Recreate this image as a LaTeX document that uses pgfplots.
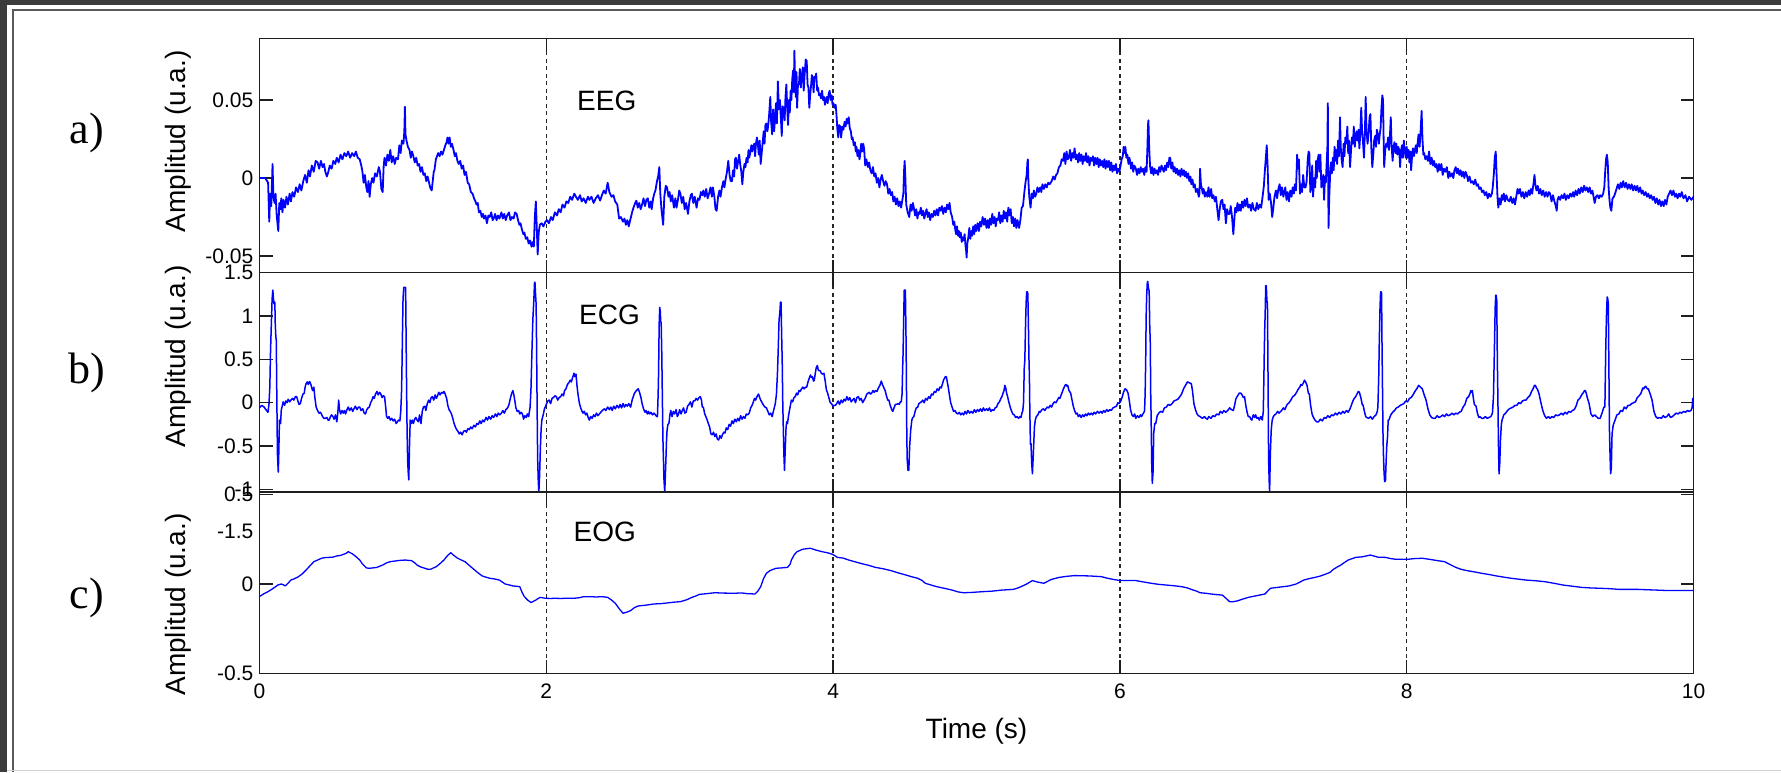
\documentclass[border=0pt]{standalone}
\usepackage{pgfplots}
\pgfplotsset{compat=1.18}
\usepackage{pgfplotstable}
\usepackage{fontspec}
\setmainfont{Liberation Sans}
\newfontfamily\serifpanel{Liberation Serif}
\definecolor{viewer}{RGB}{60,60,60}
\definecolor{axcol}{RGB}{30,30,30}
\definecolor{sigblue}{RGB}{0,0,255}

\pgfplotsset{
  sig/.style={
    scale only axis, width=1434pt,
    xmin=0, xmax=10,
    xtick={0,2,4,6,8,10},
    scaled y ticks=false, scaled x ticks=false,
    tick align=inside,
    major tick length=13pt,
    axis line style={line width=1.4pt, axcol},
    every tick/.append style={line width=1.3pt, axcol},
    xmajorgrids=true,
    major grid style={dash pattern=on 4pt off 3.5pt, line width=1.3pt, black!85},
    tick label style={font=\fontsize{21}{25}\selectfont, text=black},
    /pgf/number format/assume math mode=true,
    yticklabel style={inner sep=0pt, xshift=-6pt},
    xticklabel style={inner sep=0pt, yshift=-10.5pt},
    label style={font=\fontsize{28}{34}\selectfont},
    every axis plot/.append style={line join=round, sigblue},
  },
}

\begin{document}
\pgfplotstableread[row sep=\\]{
t v\\
0 0\\ 0.04 0\\ 0.06 -0.003\\ 0.068 -0.028\\ 0.074 -0.010\\ 0.082 -0.018\\ 0.091 0.009\\ 0.097 -0.012\\ 0.105 -0.016\\ 0.112 -0.010\\
0.120 -0.024\\ 0.131 -0.034\\ 0.138 -0.016\\ 0.146 -0.020\\ 0.152 -0.013\\ 0.160 -0.022\\ 0.168 -0.014\\ 0.178 -0.019\\ 0.188 -0.012\\ 0.198 -0.017\\
0.210 -0.010\\ 0.219 -0.015\\ 0.230 -0.009\\ 0.242 -0.012\\ 0.255 -0.006\\ 0.268 -0.009\\ 0.280 -0.004\\ 0.292 -0.008\\ 0.305 -0.002\\ 0.318 0.002\\
0.330 -0.003\\ 0.342 0.005\\ 0.352 0.001\\ 0.365 0.008\\ 0.378 0.004\\ 0.392 0.011\\ 0.405 0.010\\ 0.416 0.006\\ 0.428 0.011\\ 0.440 0.007\\
0.450 0.009\\ 0.459 0.004\\ 0.470 0.001\\ 0.480 0.004\\ 0.490 0.008\\ 0.503 0.006\\ 0.515 0.011\\ 0.528 0.009\\ 0.539 0.013\\ 0.552 0.010\\
0.565 0.015\\ 0.578 0.012\\ 0.592 0.016\\ 0.605 0.014\\ 0.618 0.017\\ 0.632 0.013\\ 0.646 0.016\\ 0.660 0.014\\ 0.672 0.017\\ 0.685 0.013\\
0.699 0.012\\ 0.710 0.008\\ 0.718 0.004\\ 0.726 -0.003\\ 0.735 0.002\\ 0.745 -0.006\\ 0.752 -0.009\\ 0.760 -0.002\\ 0.768 -0.012\\ 0.776 -0.004\\
0.786 0.000\\ 0.795 -0.003\\ 0.806 0.003\\ 0.818 0.001\\ 0.832 0.007\\ 0.840 0.004\\ 0.850 -0.007\\ 0.859 -0.009\\ 0.866 0.008\\ 0.872 0.013\\
0.882 0.008\\ 0.892 0.015\\ 0.902 0.011\\ 0.912 0.018\\ 0.922 0.010\\ 0.932 0.014\\ 0.943 0.009\\ 0.953 0.013\\ 0.966 0.012\\ 0.975 0.021\\
0.984 0.016\\ 0.993 0.024\\ 1.004 0.022\\ 1.010 0.030\\ 1.014 0.0457\\ 1.018 0.028\\ 1.025 0.024\\ 1.035 0.020\\ 1.046 0.018\\ 1.055 0.013\\
1.063 0.017\\ 1.073 0.014\\ 1.083 0.010\\ 1.093 0.013\\ 1.103 0.008\\ 1.113 0.009\\ 1.123 0.004\\ 1.133 0.007\\ 1.143 0.002\\ 1.153 0.003\\
1.163 -0.002\\ 1.172 0.001\\ 1.180 -0.002\\ 1.190 -0.006\\ 1.201 -0.008\\ 1.208 -0.002\\ 1.215 0.004\\ 1.220 0.005\\ 1.230 0.012\\ 1.238 0.014\\
1.246 0.016\\ 1.256 0.014\\ 1.266 0.017\\ 1.276 0.015\\ 1.286 0.018\\ 1.296 0.021\\ 1.305 0.023\\ 1.311 0.026\\ 1.318 0.022\\ 1.326 0.026\\
1.334 0.020\\ 1.342 0.022\\ 1.353 0.018\\ 1.362 0.014\\ 1.370 0.016\\ 1.380 0.011\\ 1.390 0.009\\ 1.400 0.011\\ 1.410 0.006\\ 1.420 0.008\\
1.430 0.002\\ 1.440 0.004\\ 1.452 -0.003\\ 1.462 -0.004\\ 1.474 -0.009\\ 1.486 -0.010\\ 1.496 -0.013\\ 1.506 -0.015\\ 1.513 -0.017\\ 1.522 -0.016\\
1.530 -0.022\\ 1.540 -0.021\\ 1.550 -0.025\\ 1.558 -0.023\\ 1.566 -0.026\\ 1.576 -0.024\\ 1.586 -0.029\\ 1.596 -0.024\\ 1.606 -0.025\\ 1.616 -0.022\\
1.626 -0.027\\ 1.633 -0.026\\ 1.643 -0.023\\ 1.653 -0.027\\ 1.663 -0.024\\ 1.673 -0.026\\ 1.687 -0.022\\ 1.697 -0.026\\ 1.707 -0.023\\ 1.717 -0.027\\
1.727 -0.024\\ 1.740 -0.022\\ 1.750 -0.027\\ 1.760 -0.025\\ 1.772 -0.026\\ 1.782 -0.022\\ 1.793 -0.023\\ 1.803 -0.027\\ 1.812 -0.030\\ 1.820 -0.029\\
1.830 -0.033\\ 1.840 -0.036\\ 1.847 -0.035\\ 1.857 -0.039\\ 1.867 -0.038\\ 1.877 -0.042\\ 1.887 -0.040\\ 1.897 -0.044\\ 1.906 -0.041\\ 1.913 -0.044\\
1.920 -0.025\\ 1.927 -0.015\\ 1.933 -0.030\\ 1.940 -0.049\\ 1.947 -0.035\\ 1.955 -0.030\\ 1.967 -0.029\\ 1.980 -0.031\\ 1.994 -0.028\\ 2.005 -0.027\\
2.018 -0.029\\ 2.033 -0.025\\ 2.045 -0.027\\ 2.060 -0.022\\ 2.075 -0.024\\ 2.087 -0.020\\ 2.100 -0.022\\ 2.113 -0.017\\ 2.127 -0.019\\ 2.140 -0.015\\
2.153 -0.016\\ 2.167 -0.012\\ 2.180 -0.014\\ 2.195 -0.010\\ 2.207 -0.012\\ 2.220 -0.014\\ 2.235 -0.011\\ 2.247 -0.015\\ 2.260 -0.013\\ 2.275 -0.016\\
2.290 -0.012\\ 2.300 -0.014\\ 2.315 -0.012\\ 2.330 -0.016\\ 2.345 -0.013\\ 2.360 -0.011\\ 2.375 -0.0145\\ 2.388 -0.011\\ 2.401 -0.008\\ 2.414 -0.010\\
2.428 -0.003\\ 2.440 -0.009\\ 2.455 -0.012\\ 2.468 -0.011\\ 2.480 -0.015\\ 2.495 -0.017\\ 2.502 -0.022\\ 2.508 -0.026\\ 2.520 -0.025\\ 2.535 -0.028\\
2.545 -0.026\\ 2.555 -0.030\\ 2.565 -0.027\\ 2.575 -0.031\\ 2.585 -0.027\\ 2.593 -0.024\\ 2.601 -0.021\\ 2.612 -0.018\\ 2.620 -0.016\\ 2.628 -0.0145\\
2.638 -0.019\\ 2.648 -0.016\\ 2.658 -0.020\\ 2.668 -0.017\\ 2.678 -0.013\\ 2.688 -0.018\\ 2.698 -0.014\\ 2.708 -0.013\\ 2.718 -0.019\\ 2.728 -0.015\\
2.735 -0.020\\ 2.745 -0.013\\ 2.753 -0.010\\ 2.761 -0.008\\ 2.772 -0.002\\ 2.780 0.001\\ 2.788 0.007\\ 2.795 -0.010\\ 2.803 -0.020\\ 2.815 -0.030\\
2.823 -0.012\\ 2.833 -0.005\\ 2.842 -0.006\\ 2.852 -0.012\\ 2.860 -0.009\\ 2.868 -0.015\\ 2.878 -0.011\\ 2.890 -0.019\\ 2.900 -0.013\\ 2.908 -0.019\\
2.918 -0.014\\ 2.927 -0.008\\ 2.935 -0.010\\ 2.945 -0.016\\ 2.955 -0.012\\ 2.965 -0.020\\ 2.975 -0.016\\ 2.988 -0.023\\ 2.998 -0.015\\ 3.008 -0.011\\
3.015 -0.010\\ 3.025 -0.016\\ 3.035 -0.012\\ 3.048 -0.019\\ 3.058 -0.013\\ 3.068 -0.014\\ 3.078 -0.009\\ 3.088 -0.011\\ 3.095 -0.008\\ 3.105 -0.012\\
3.115 -0.007\\ 3.125 -0.013\\ 3.135 -0.010\\ 3.145 -0.006\\ 3.155 -0.012\\ 3.162 -0.006\\ 3.172 -0.012\\ 3.180 -0.020\\ 3.188 -0.021\\ 3.198 -0.012\\
3.207 -0.008\\ 3.215 -0.012\\ 3.225 -0.006\\ 3.235 -0.002\\ 3.242 -0.006\\ 3.250 -0.001\\ 3.260 0.004\\ 3.269 0.011\\ 3.278 0.002\\ 3.286 -0.002\\
3.295 -0.002\\ 3.302 0.005\\ 3.310 0.001\\ 3.316 0.012\\ 3.322 0.013\\ 3.330 0.006\\ 3.338 0.011\\ 3.345 0.015\\ 3.352 0.009\\ 3.360 0.004\\
3.367 -0.004\\ 3.374 0.004\\ 3.382 0.009\\ 3.389 0.007\\ 3.396 0.013\\ 3.404 0.010\\ 3.410 0.018\\ 3.415 0.013\\ 3.422 0.016\\ 3.430 0.021\\
3.436 0.017\\ 3.442 0.020\\ 3.450 0.022\\ 3.456 0.014\\ 3.462 0.022\\ 3.469 0.026\\ 3.476 0.021\\ 3.482 0.015\\ 3.488 0.024\\ 3.495 0.009\\
3.502 0.016\\ 3.510 0.024\\ 3.516 0.030\\ 3.522 0.022\\ 3.528 0.034\\ 3.535 0.035\\ 3.542 0.030\\ 3.549 0.035\\ 3.555 0.042\\ 3.562 0.052\\
3.568 0.036\\ 3.575 0.028\\ 3.582 0.044\\ 3.589 0.030\\ 3.596 0.040\\ 3.602 0.048\\ 3.608 0.035\\ 3.615 0.062\\ 3.622 0.044\\ 3.629 0.050\\
3.636 0.038\\ 3.642 0.027\\ 3.648 0.046\\ 3.655 0.044\\ 3.662 0.037\\ 3.668 0.052\\ 3.674 0.060\\ 3.680 0.045\\ 3.686 0.034\\ 3.692 0.050\\
3.698 0.042\\ 3.704 0.056\\ 3.709 0.050\\ 3.715 0.063\\ 3.721 0.069\\ 3.726 0.055\\ 3.730 0.0816\\ 3.735 0.062\\ 3.740 0.052\\ 3.745 0.068\\
3.749 0.045\\ 3.755 0.060\\ 3.762 0.060\\ 3.768 0.070\\ 3.775 0.058\\ 3.782 0.066\\ 3.789 0.071\\ 3.795 0.056\\ 3.802 0.067\\ 3.809 0.076\\
3.816 0.075\\ 3.822 0.060\\ 3.828 0.058\\ 3.834 0.045\\ 3.840 0.053\\ 3.847 0.060\\ 3.852 0.066\\ 3.858 0.064\\ 3.864 0.055\\ 3.870 0.065\\
3.876 0.064\\ 3.882 0.067\\ 3.889 0.056\\ 3.895 0.058\\ 3.902 0.053\\ 3.909 0.054\\ 3.916 0.051\\ 3.923 0.056\\ 3.930 0.050\\ 3.937 0.052\\
3.943 0.047\\ 3.949 0.050\\ 3.956 0.052\\ 3.962 0.048\\ 3.969 0.054\\ 3.976 0.056\\ 3.983 0.050\\ 3.990 0.053\\ 3.996 0.047\\ 4.002 0.048\\
4.010 0.045\\ 4.018 0.047\\ 4.024 0.040\\ 4.029 0.032\\ 4.036 0.026\\ 4.042 0.034\\ 4.050 0.033\\ 4.056 0.026\\ 4.064 0.033\\ 4.072 0.031\\
4.080 0.036\\ 4.087 0.033\\ 4.095 0.038\\ 4.102 0.035\\ 4.109 0.039\\ 4.116 0.032\\ 4.124 0.030\\ 4.130 0.025\\ 4.136 0.026\\ 4.144 0.021\\
4.152 0.023\\ 4.158 0.017\\ 4.163 0.020\\ 4.170 0.014\\ 4.177 0.018\\ 4.184 0.012\\ 4.189 0.015\\ 4.196 0.022\\ 4.203 0.017\\ 4.210 0.022\\
4.216 0.019\\ 4.224 0.008\\ 4.232 0.012\\ 4.243 0.007\\ 4.251 0.010\\ 4.260 0.005\\ 4.269 0.003\\ 4.278 0.007\\ 4.287 0.001\\ 4.296 0.003\\
4.305 -0.003\\ 4.314 0.000\\ 4.323 -0.006\\ 4.331 -0.001\\ 4.340 0.002\\ 4.349 -0.002\\ 4.358 -0.005\\ 4.367 -0.002\\ 4.376 -0.004\\ 4.385 -0.010\\
4.394 -0.007\\ 4.403 -0.011\\ 4.412 -0.009\\ 4.420 -0.015\\ 4.429 -0.012\\ 4.438 -0.017\\ 4.447 -0.013\\ 4.456 -0.018\\ 4.465 -0.015\\ 4.474 -0.019\\
4.483 -0.014\\ 4.490 -0.010\\ 4.495 0.005\\ 4.499 0.011\\ 4.504 0.000\\ 4.510 -0.017\\ 4.520 -0.022\\ 4.531 -0.025\\ 4.540 -0.017\\ 4.548 -0.021\\
4.556 -0.016\\ 4.563 -0.019\\ 4.572 -0.024\\ 4.580 -0.020\\ 4.588 -0.026\\ 4.595 -0.022\\ 4.603 -0.023\\ 4.612 -0.019\\ 4.620 -0.024\\ 4.628 -0.021\\
4.636 -0.026\\ 4.643 -0.023\\ 4.652 -0.020\\ 4.660 -0.025\\ 4.668 -0.022\\ 4.677 -0.027\\ 4.686 -0.023\\ 4.696 -0.025\\ 4.705 -0.021\\ 4.714 -0.024\\
4.723 -0.020\\ 4.732 -0.024\\ 4.741 -0.019\\ 4.750 -0.021\\ 4.759 -0.018\\ 4.768 -0.023\\ 4.777 -0.019\\ 4.786 -0.022\\ 4.795 -0.017\\ 4.803 -0.020\\
4.812 -0.016\\ 4.820 -0.022\\ 4.830 -0.025\\ 4.838 -0.030\\ 4.845 -0.028\\ 4.852 -0.033\\ 4.857 -0.036\\ 4.864 -0.031\\ 4.871 -0.037\\ 4.877 -0.034\\
4.883 -0.038\\ 4.890 -0.035\\ 4.897 -0.041\\ 4.904 -0.038\\ 4.910 -0.040\\ 4.917 -0.036\\ 4.923 -0.043\\ 4.928 -0.047\\ 4.931 -0.051\\ 4.936 -0.042\\
4.943 -0.038\\ 4.950 -0.032\\ 4.957 -0.039\\ 4.963 -0.034\\ 4.970 -0.037\\ 4.977 -0.031\\ 4.984 -0.036\\ 4.991 -0.030\\ 4.998 -0.034\\ 5.008 -0.029\\
5.017 -0.034\\ 5.025 -0.028\\ 5.033 -0.031\\ 5.043 -0.025\\ 5.052 -0.030\\ 5.060 -0.026\\ 5.070 -0.032\\ 5.078 -0.027\\ 5.086 -0.032\\ 5.094 -0.026\\
5.102 -0.030\\ 5.110 -0.023\\ 5.118 -0.029\\ 5.126 -0.025\\ 5.134 -0.031\\ 5.142 -0.026\\ 5.150 -0.027\\ 5.158 -0.022\\ 5.166 -0.029\\ 5.174 -0.024\\
5.182 -0.028\\ 5.190 -0.021\\ 5.198 -0.026\\ 5.206 -0.022\\ 5.214 -0.028\\ 5.222 -0.019\\ 5.230 -0.024\\ 5.238 -0.020\\ 5.246 -0.029\\ 5.254 -0.025\\
5.262 -0.031\\ 5.270 -0.026\\ 5.278 -0.032\\ 5.286 -0.027\\ 5.297 -0.032\\ 5.306 -0.027\\ 5.315 -0.019\\ 5.324 -0.018\\ 5.335 -0.008\\ 5.343 -0.002\\
5.350 0.002\\ 5.355 0.010\\ 5.358 0.012\\ 5.362 -0.002\\ 5.368 -0.012\\ 5.377 -0.019\\ 5.385 -0.010\\ 5.393 -0.013\\ 5.400 -0.008\\ 5.409 -0.012\\
5.417 -0.010\\ 5.425 -0.006\\ 5.434 -0.009\\ 5.444 -0.006\\ 5.452 -0.009\\ 5.460 -0.004\\ 5.470 -0.007\\ 5.480 -0.004\\ 5.490 -0.006\\ 5.500 -0.003\\
5.510 -0.004\\ 5.524 -0.002\\ 5.535 0.001\\ 5.545 -0.001\\ 5.555 0.002\\ 5.564 0.003\\ 5.575 0.007\\ 5.585 0.008\\ 5.594 0.012\\ 5.604 0.011\\
5.612 0.016\\ 5.620 0.009\\ 5.628 0.017\\ 5.636 0.012\\ 5.644 0.013\\ 5.652 0.018\\ 5.660 0.011\\ 5.668 0.016\\ 5.676 0.013\\ 5.684 0.019\\
5.692 0.012\\ 5.700 0.015\\ 5.708 0.010\\ 5.716 0.016\\ 5.724 0.011\\ 5.732 0.015\\ 5.740 0.009\\ 5.748 0.014\\ 5.756 0.011\\ 5.764 0.016\\
5.772 0.010\\ 5.780 0.014\\ 5.788 0.008\\ 5.796 0.013\\ 5.804 0.011\\ 5.812 0.014\\ 5.820 0.008\\ 5.828 0.013\\ 5.836 0.009\\ 5.844 0.013\\
5.852 0.007\\ 5.860 0.012\\ 5.868 0.008\\ 5.876 0.011\\ 5.884 0.007\\ 5.892 0.012\\ 5.900 0.006\\ 5.908 0.011\\ 5.916 0.007\\ 5.924 0.011\\
5.932 0.005\\ 5.940 0.010\\ 5.948 0.004\\ 5.956 0.008\\ 5.964 0.005\\ 5.972 0.009\\ 5.980 0.003\\ 5.988 0.006\\ 5.996 0.004\\ 6.005 0.008\\
6.012 0.012\\ 6.020 0.014\\ 6.026 0.020\\ 6.031 0.016\\ 6.038 0.020\\ 6.045 0.013\\ 6.052 0.015\\ 6.060 0.009\\ 6.066 0.013\\ 6.071 0.011\\
6.078 0.006\\ 6.085 0.010\\ 6.093 0.004\\ 6.101 0.008\\ 6.111 0.006\\ 6.120 0.002\\ 6.128 0.006\\ 6.137 0.003\\ 6.145 0.007\\ 6.153 0.004\\
6.162 0.006\\ 6.170 0.002\\ 6.178 0.007\\ 6.186 0.004\\ 6.192 0.020\\ 6.196 0.034\\ 6.199 0.037\\ 6.204 0.020\\ 6.210 0.008\\ 6.218 0.003\\
6.226 0.007\\ 6.234 0.002\\ 6.242 0.006\\ 6.250 0.003\\ 6.258 0.005\\ 6.266 0.002\\ 6.274 0.007\\ 6.282 0.004\\ 6.290 0.008\\ 6.298 0.006\\
6.306 0.004\\ 6.314 0.008\\ 6.322 0.005\\ 6.330 0.010\\ 6.338 0.007\\ 6.345 0.013\\ 6.351 0.013\\ 6.358 0.006\\ 6.366 0.010\\ 6.374 0.004\\
6.382 0.007\\ 6.390 0.003\\ 6.398 0.006\\ 6.406 0.002\\ 6.414 0.005\\ 6.422 0.001\\ 6.430 0.006\\ 6.438 0.002\\ 6.446 0.005\\ 6.452 0.001\\
6.460 0.004\\ 6.468 0.000\\ 6.476 0.003\\ 6.484 -0.002\\ 6.492 0.001\\ 6.498 -0.004\\ 6.506 -0.001\\ 6.514 -0.006\\ 6.522 -0.004\\ 6.530 -0.009\\
6.540 -0.007\\ 6.550 -0.012\\ 6.555 -0.010\\ 6.559 0.006\\ 6.565 -0.004\\ 6.570 -0.006\\ 6.578 -0.010\\ 6.584 -0.007\\ 6.592 -0.012\\ 6.600 -0.009\\
6.610 -0.012\\ 6.618 -0.006\\ 6.626 -0.012\\ 6.636 -0.007\\ 6.644 -0.013\\ 6.652 -0.011\\ 6.662 -0.015\\ 6.670 -0.012\\ 6.678 -0.019\\ 6.688 -0.027\\
6.696 -0.020\\ 6.704 -0.015\\ 6.714 -0.014\\ 6.722 -0.020\\ 6.730 -0.017\\ 6.739 -0.029\\ 6.748 -0.020\\ 6.756 -0.023\\ 6.765 -0.023\\ 6.773 -0.018\\
6.782 -0.025\\ 6.791 -0.036\\ 6.797 -0.028\\ 6.804 -0.019\\ 6.812 -0.022\\ 6.820 -0.016\\ 6.828 -0.021\\ 6.836 -0.017\\ 6.843 -0.021\\ 6.852 -0.015\\
6.860 -0.019\\ 6.869 -0.014\\ 6.877 -0.018\\ 6.886 -0.013\\ 6.895 -0.019\\ 6.907 -0.017\\ 6.915 -0.021\\ 6.924 -0.016\\ 6.934 -0.020\\ 6.946 -0.021\\
6.955 -0.016\\ 6.965 -0.020\\ 6.975 -0.017\\ 6.985 -0.019\\ 6.995 -0.012\\ 7.004 -0.005\\ 7.011 0.005\\ 7.017 0.012\\ 7.024 0.021\\ 7.030 0.008\\
7.037 -0.014\\ 7.045 -0.010\\ 7.054 -0.016\\ 7.062 -0.025\\ 7.070 -0.019\\ 7.078 -0.012\\ 7.088 -0.008\\ 7.096 -0.013\\ 7.105 -0.007\\ 7.114 -0.004\\
7.122 -0.011\\ 7.130 -0.006\\ 7.140 -0.012\\ 7.153 -0.006\\ 7.162 -0.014\\ 7.170 -0.009\\ 7.179 -0.015\\ 7.188 -0.008\\ 7.197 -0.012\\ 7.205 -0.006\\
7.213 -0.010\\ 7.220 -0.004\\ 7.228 -0.008\\ 7.236 0.015\\ 7.240 0.006\\ 7.248 0.012\\ 7.256 -0.010\\ 7.263 -0.004\\ 7.270 -0.009\\ 7.278 0.002\\
7.286 -0.006\\ 7.295 -0.006\\ 7.302 -0.002\\ 7.310 0.012\\ 7.316 0.017\\ 7.321 0.016\\ 7.328 -0.009\\ 7.335 -0.004\\ 7.341 0.008\\ 7.347 -0.012\\
7.355 0.000\\ 7.362 -0.006\\ 7.368 0.011\\ 7.373 0.000\\ 7.380 0.012\\ 7.386 0.015\\ 7.392 0.004\\ 7.398 0.015\\ 7.405 -0.006\\ 7.412 -0.004\\
7.418 0.002\\ 7.424 -0.014\\ 7.430 0.001\\ 7.436 -0.003\\ 7.442 0.010\\ 7.447 0.020\\ 7.450 0.048\\ 7.452 0.005\\ 7.455 -0.032\\ 7.460 -0.012\\
7.466 0.002\\ 7.472 0.010\\ 7.478 0.003\\ 7.485 0.013\\ 7.491 0.005\\ 7.497 0.020\\ 7.502 0.011\\ 7.508 0.018\\ 7.515 0.009\\ 7.521 0.024\\
7.528 0.014\\ 7.535 0.039\\ 7.540 0.020\\ 7.546 0.012\\ 7.553 0.007\\ 7.560 0.022\\ 7.566 0.014\\ 7.572 0.026\\ 7.579 0.022\\ 7.586 0.033\\
7.592 0.016\\ 7.598 0.024\\ 7.605 0.007\\ 7.612 0.018\\ 7.618 0.026\\ 7.625 0.022\\ 7.631 0.033\\ 7.638 0.020\\ 7.644 0.026\\ 7.650 0.030\\
7.657 0.024\\ 7.664 0.031\\ 7.670 0.019\\ 7.676 0.028\\ 7.683 0.045\\ 7.689 0.030\\ 7.696 0.022\\ 7.702 0.013\\ 7.708 0.028\\ 7.714 0.052\\
7.720 0.030\\ 7.727 0.022\\ 7.734 0.028\\ 7.741 0.039\\ 7.747 0.041\\ 7.753 0.020\\ 7.760 0.007\\ 7.767 0.015\\ 7.773 0.024\\ 7.780 0.027\\
7.786 0.020\\ 7.792 0.031\\ 7.799 0.028\\ 7.806 0.022\\ 7.812 0.028\\ 7.818 0.032\\ 7.824 0.045\\ 7.830 0.053\\ 7.835 0.050\\ 7.840 0.020\\
7.843 0.007\\ 7.850 0.018\\ 7.857 0.022\\ 7.864 0.020\\ 7.870 0.026\\ 7.876 0.018\\ 7.883 0.027\\ 7.889 0.039\\ 7.895 0.020\\ 7.902 0.011\\
7.908 0.020\\ 7.915 0.023\\ 7.922 0.016\\ 7.928 0.022\\ 7.935 0.015\\ 7.941 0.020\\ 7.948 0.018\\ 7.954 0.007\\ 7.960 0.017\\ 7.967 0.021\\
7.973 0.013\\ 7.980 0.024\\ 7.987 0.017\\ 7.993 0.013\\ 8.000 0.020\\ 8.006 0.013\\ 8.013 0.018\\ 8.019 0.010\\ 8.026 0.017\\ 8.031 0.005\\
8.038 0.015\\ 8.044 0.019\\ 8.051 0.014\\ 8.057 0.018\\ 8.064 0.021\\ 8.070 0.016\\ 8.077 0.023\\ 8.083 0.028\\ 8.090 0.020\\ 8.097 0.030\\
8.104 0.043\\ 8.110 0.025\\ 8.116 0.015\\ 8.122 0.016\\ 8.130 0.012\\ 8.138 0.014\\ 8.148 0.011\\ 8.156 0.017\\ 8.165 0.009\\ 8.174 0.013\\
8.182 0.008\\ 8.190 0.011\\ 8.199 0.007\\ 8.207 0.009\\ 8.216 0.004\\ 8.225 0.009\\ 8.233 0.005\\ 8.242 0.009\\ 8.251 0.002\\ 8.260 0.006\\
8.270 0.004\\ 8.280 0.007\\ 8.290 0.000\\ 8.298 0.004\\ 8.306 0.001\\ 8.316 0.003\\ 8.325 0.000\\ 8.333 0.005\\ 8.342 0.007\\ 8.350 0.003\\
8.358 0.006\\ 8.367 0.002\\ 8.376 0.005\\ 8.384 0.001\\ 8.393 0.004\\ 8.402 0.000\\ 8.410 0.004\\ 8.419 0.002\\ 8.428 -0.002\\ 8.438 0.001\\
8.448 -0.003\\ 8.458 -0.002\\ 8.468 -0.004\\ 8.478 -0.001\\ 8.488 -0.005\\ 8.497 -0.004\\ 8.506 -0.007\\ 8.516 -0.006\\ 8.525 -0.009\\ 8.535 -0.008\\
8.545 -0.011\\ 8.555 -0.009\\ 8.565 -0.013\\ 8.574 -0.010\\ 8.585 -0.012\\ 8.594 -0.010\\ 8.600 -0.006\\ 8.608 0.003\\ 8.614 0.013\\ 8.621 0.017\\
8.627 0.002\\ 8.633 -0.012\\ 8.639 -0.019\\ 8.646 -0.013\\ 8.655 -0.017\\ 8.663 -0.011\\ 8.670 -0.014\\ 8.677 -0.010\\ 8.686 -0.015\\ 8.695 -0.011\\
8.705 -0.014\\ 8.716 -0.015\\ 8.726 -0.012\\ 8.736 -0.016\\ 8.746 -0.013\\ 8.755 -0.017\\ 8.764 -0.012\\ 8.773 -0.007\\ 8.781 -0.010\\ 8.790 -0.007\\
8.800 -0.012\\ 8.810 -0.009\\ 8.820 -0.013\\ 8.830 -0.009\\ 8.840 -0.012\\ 8.850 -0.008\\ 8.858 -0.011\\ 8.866 -0.007\\ 8.875 -0.010\\ 8.885 -0.003\\
8.891 0.002\\ 8.897 -0.004\\ 8.905 -0.008\\ 8.914 -0.005\\ 8.923 -0.010\\ 8.932 -0.007\\ 8.942 -0.011\\ 8.952 -0.008\\ 8.962 -0.012\\ 8.972 -0.009\\
8.982 -0.012\\ 8.991 -0.009\\ 9.000 -0.010\\ 9.010 -0.015\\ 9.020 -0.011\\ 9.030 -0.015\\ 9.040 -0.018\\ 9.046 -0.021\\ 9.052 -0.014\\ 9.060 -0.012\\
9.070 -0.014\\ 9.080 -0.011\\ 9.091 -0.013\\ 9.100 -0.010\\ 9.110 -0.014\\ 9.120 -0.011\\ 9.130 -0.013\\ 9.140 -0.010\\ 9.150 -0.012\\ 9.160 -0.009\\
9.168 -0.012\\ 9.178 -0.008\\ 9.188 -0.011\\ 9.198 -0.007\\ 9.207 -0.010\\ 9.217 -0.006\\ 9.227 -0.009\\ 9.237 -0.005\\ 9.246 -0.008\\ 9.256 -0.006\\
9.266 -0.009\\ 9.276 -0.006\\ 9.285 -0.010\\ 9.295 -0.008\\ 9.305 -0.013\\ 9.311 -0.016\\ 9.320 -0.012\\ 9.330 -0.011\\ 9.340 -0.013\\ 9.349 -0.011\\
9.360 -0.012\\ 9.370 -0.010\\ 9.378 -0.006\\ 9.384 0.004\\ 9.390 0.012\\ 9.396 0.015\\ 9.402 0.010\\ 9.408 -0.006\\ 9.414 -0.014\\ 9.420 -0.019\\
9.427 -0.021\\ 9.435 -0.013\\ 9.445 -0.012\\ 9.453 -0.010\\ 9.463 -0.007\\ 9.473 -0.004\\ 9.483 -0.007\\ 9.492 -0.003\\ 9.500 -0.006\\ 9.510 -0.002\\
9.520 -0.006\\ 9.530 -0.003\\ 9.540 -0.007\\ 9.550 -0.004\\ 9.560 -0.007\\ 9.569 -0.004\\ 9.579 -0.008\\ 9.589 -0.005\\ 9.599 -0.008\\ 9.608 -0.005\\
9.618 -0.009\\ 9.628 -0.006\\ 9.638 -0.010\\ 9.646 -0.008\\ 9.656 -0.011\\ 9.666 -0.009\\ 9.676 -0.012\\ 9.685 -0.010\\ 9.695 -0.013\\ 9.705 -0.011\\
9.715 -0.014\\ 9.724 -0.012\\ 9.734 -0.016\\ 9.744 -0.013\\ 9.754 -0.017\\ 9.763 -0.014\\ 9.773 -0.018\\ 9.782 -0.015\\ 9.792 -0.018\\ 9.801 -0.014\\
9.811 -0.017\\ 9.820 -0.012\\ 9.830 -0.010\\ 9.840 -0.008\\ 9.850 -0.011\\ 9.860 -0.008\\ 9.870 -0.012\\ 9.879 -0.010\\ 9.889 -0.013\\ 9.899 -0.010\\
9.908 -0.012\\ 9.918 -0.009\\ 9.930 -0.013\\ 9.944 -0.011\\ 9.955 -0.015\\ 9.969 -0.012\\ 9.985 -0.014\\ 10.000 -0.012\\
}\eegdata

\pgfplotstableread[row sep=\\]{
t v\\
0.000 -0.06\\ 0.015 -0.03\\ 0.032 -0.05\\ 0.045 -0.08\\ 0.059 -0.11\\ 0.066 -0.02\\ 0.072 0.18\\ 0.077 0.60\\ 0.083 0.93\\ 0.088 1.20\\
0.093 1.30\\ 0.097 1.20\\ 0.101 1.14\\ 0.104 1.16\\ 0.107 1.16\\ 0.110 0.90\\ 0.114 0.76\\ 0.117 0.72\\ 0.120 0.20\\ 0.125 -0.59\\
0.131 -0.80\\ 0.135 -0.55\\ 0.139 -0.20\\ 0.143 -0.22\\ 0.147 -0.24\\ 0.152 -0.08\\ 0.157 -0.05\\ 0.165 0.01\\ 0.175 -0.03\\ 0.183 0.02\\
0.192 0.00\\ 0.200 0.04\\ 0.210 0.01\\ 0.219 0.03\\ 0.230 0.05\\ 0.240 0.03\\ 0.250 0.07\\ 0.259 0.07\\ 0.268 0.02\\ 0.276 -0.02\\
0.285 -0.01\\ 0.293 0.05\\ 0.303 0.10\\ 0.312 0.11\\ 0.318 0.18\\ 0.325 0.22\\ 0.333 0.24\\ 0.340 0.21\\ 0.346 0.24\\ 0.352 0.24\\
0.360 0.20\\ 0.370 0.14\\ 0.379 0.18\\ 0.386 0.06\\ 0.395 -0.05\\ 0.405 -0.09\\ 0.415 -0.12\\ 0.425 -0.11\\ 0.432 -0.13\\ 0.440 -0.16\\
0.450 -0.18\\ 0.459 -0.18\\ 0.470 -0.17\\ 0.478 -0.20\\ 0.486 -0.20\\ 0.495 -0.16\\ 0.503 -0.14\\ 0.512 -0.16\\ 0.520 -0.19\\ 0.530 -0.14\\
0.539 -0.22\\ 0.546 -0.12\\ 0.552 0.03\\ 0.558 -0.08\\ 0.566 -0.13\\ 0.575 -0.09\\ 0.584 -0.12\\ 0.592 -0.09\\ 0.600 -0.13\\ 0.610 -0.08\\
0.619 -0.05\\ 0.628 -0.09\\ 0.640 -0.06\\ 0.650 -0.10\\ 0.659 -0.07\\ 0.668 -0.04\\ 0.680 -0.08\\ 0.690 -0.05\\ 0.699 -0.05\\ 0.708 -0.09\\
0.720 -0.07\\ 0.730 -0.12\\ 0.739 -0.13\\ 0.748 -0.08\\ 0.757 -0.06\\ 0.766 -0.05\\ 0.775 0.00\\ 0.784 0.03\\ 0.792 0.07\\ 0.800 0.05\\
0.809 0.10\\ 0.819 0.13\\ 0.828 0.09\\ 0.838 0.12\\ 0.846 0.10\\ 0.855 0.06\\ 0.864 0.08\\ 0.872 0.07\\ 0.880 -0.05\\ 0.886 -0.16\\
0.894 -0.18\\ 0.903 -0.16\\ 0.912 -0.20\\ 0.922 -0.18\\ 0.932 -0.21\\ 0.942 -0.19\\ 0.953 -0.24\\ 0.962 -0.22\\ 0.970 -0.20\\ 0.979 -0.21\\
0.985 -0.10\\ 0.990 0.10\\ 0.993 0.34\\ 0.997 0.80\\ 1.001 1.20\\ 1.006 1.33\\ 1.012 1.33\\ 1.019 1.33\\ 1.022 0.80\\ 1.025 0.30\\
1.029 -0.30\\ 1.033 -0.66\\ 1.037 -0.80\\ 1.041 -0.89\\ 1.046 -0.50\\ 1.051 -0.20\\ 1.058 -0.24\\ 1.066 -0.20\\ 1.073 -0.24\\ 1.082 -0.19\\
1.090 -0.17\\ 1.099 -0.20\\ 1.108 -0.22\\ 1.116 -0.14\\ 1.126 -0.24\\ 1.135 -0.10\\ 1.143 -0.05\\ 1.153 -0.04\\ 1.160 -0.09\\ 1.170 -0.01\\
1.180 0.03\\ 1.188 0.00\\ 1.197 0.06\\ 1.206 0.07\\ 1.215 0.03\\ 1.225 0.09\\ 1.233 0.05\\ 1.242 0.08\\ 1.250 0.12\\ 1.259 0.09\\
1.270 0.12\\ 1.280 0.11\\ 1.286 0.13\\ 1.295 0.10\\ 1.305 0.05\\ 1.313 -0.03\\ 1.322 -0.08\\ 1.330 -0.10\\ 1.339 -0.13\\ 1.348 -0.18\\
1.357 -0.24\\ 1.366 -0.28\\ 1.375 -0.31\\ 1.384 -0.33\\ 1.393 -0.36\\ 1.403 -0.34\\ 1.413 -0.37\\ 1.423 -0.33\\ 1.433 -0.32\\ 1.443 -0.34\\
1.453 -0.30\\ 1.463 -0.31\\ 1.473 -0.28\\ 1.483 -0.30\\ 1.495 -0.26\\ 1.505 -0.28\\ 1.516 -0.24\\ 1.526 -0.25\\ 1.536 -0.21\\ 1.546 -0.24\\
1.556 -0.20\\ 1.566 -0.22\\ 1.580 -0.17\\ 1.590 -0.20\\ 1.600 -0.16\\ 1.612 -0.19\\ 1.622 -0.15\\ 1.633 -0.17\\ 1.645 -0.13\\ 1.655 -0.16\\
1.665 -0.12\\ 1.676 -0.14\\ 1.687 -0.12\\ 1.697 -0.09\\ 1.707 -0.12\\ 1.718 -0.08\\ 1.730 -0.06\\ 1.740 -0.02\\ 1.748 0.04\\ 1.757 0.10\\
1.767 0.14\\ 1.775 0.08\\ 1.780 0.03\\ 1.788 -0.06\\ 1.797 -0.10\\ 1.807 -0.09\\ 1.815 -0.13\\ 1.825 -0.11\\ 1.833 -0.13\\ 1.842 -0.19\\
1.850 -0.15\\ 1.860 -0.17\\ 1.868 -0.13\\ 1.877 -0.16\\ 1.887 -0.05\\ 1.893 0.15\\ 1.900 0.60\\ 1.906 0.95\\ 1.913 1.18\\ 1.918 1.39\\
1.921 1.39\\ 1.925 1.25\\ 1.929 1.14\\ 1.932 0.70\\ 1.935 0.14\\ 1.938 -0.40\\ 1.940 -0.66\\ 1.944 -0.90\\ 1.948 -1.03\\ 1.953 -0.85\\
1.959 -0.51\\ 1.964 -0.30\\ 1.969 -0.20\\ 1.975 -0.16\\ 1.980 -0.13\\ 1.987 -0.07\\ 1.993 -0.05\\ 2.000 -0.02\\ 2.010 0.02\\ 2.020 0.03\\
2.030 -0.01\\ 2.040 0.05\\ 2.050 0.06\\ 2.060 0.08\\ 2.070 0.07\\ 2.080 0.03\\ 2.090 0.06\\ 2.100 0.07\\ 2.110 0.10\\ 2.120 0.08\\
2.127 0.14\\ 2.137 0.16\\ 2.147 0.21\\ 2.157 0.23\\ 2.167 0.26\\ 2.175 0.24\\ 2.183 0.29\\ 2.190 0.32\\ 2.193 0.34\\ 2.200 0.30\\
2.207 0.33\\ 2.214 0.20\\ 2.220 0.11\\ 2.230 0.00\\ 2.240 -0.06\\ 2.247 -0.09\\ 2.256 -0.12\\ 2.265 -0.10\\ 2.274 -0.14\\ 2.283 -0.12\\
2.292 -0.17\\ 2.300 -0.20\\ 2.310 -0.16\\ 2.320 -0.18\\ 2.330 -0.14\\ 2.340 -0.16\\ 2.350 -0.12\\ 2.360 -0.15\\ 2.375 -0.12\\ 2.390 -0.09\\
2.405 -0.07\\ 2.415 -0.09\\ 2.428 -0.05\\ 2.440 -0.08\\ 2.450 -0.05\\ 2.460 -0.09\\ 2.470 -0.04\\ 2.481 -0.07\\ 2.493 -0.03\\ 2.505 -0.06\\
2.515 -0.02\\ 2.525 -0.06\\ 2.535 -0.01\\ 2.545 -0.05\\ 2.555 -0.02\\ 2.565 -0.04\\ 2.575 -0.01\\ 2.588 -0.05\\ 2.600 0.04\\ 2.615 0.11\\
2.628 0.14\\ 2.641 0.16\\ 2.650 0.12\\ 2.660 0.06\\ 2.668 -0.01\\ 2.678 -0.07\\ 2.688 -0.11\\ 2.695 -0.09\\ 2.705 -0.13\\ 2.712 -0.10\\
2.721 -0.13\\ 2.730 -0.11\\ 2.740 -0.14\\ 2.751 -0.12\\ 2.761 -0.14\\ 2.770 -0.16\\ 2.775 -0.16\\ 2.780 0.10\\ 2.783 0.34\\ 2.787 0.90\\
2.791 1.10\\ 2.795 1.05\\ 2.798 0.93\\ 2.801 0.93\\ 2.805 0.60\\ 2.809 0.11\\ 2.813 -0.40\\ 2.817 -0.66\\ 2.821 -0.90\\ 2.826 -1.03\\
2.830 -0.85\\ 2.834 -0.66\\ 2.838 -0.45\\ 2.842 -0.32\\ 2.848 -0.25\\ 2.855 -0.24\\ 2.862 -0.14\\ 2.868 -0.09\\ 2.877 -0.16\\ 2.886 -0.10\\
2.895 -0.13\\ 2.905 -0.08\\ 2.914 -0.16\\ 2.922 -0.13\\ 2.930 -0.08\\ 2.940 -0.13\\ 2.948 -0.09\\ 2.957 -0.06\\ 2.966 -0.12\\ 2.975 -0.11\\
2.985 -0.04\\ 2.995 -0.02\\ 3.005 0.01\\ 3.015 -0.05\\ 3.025 0.02\\ 3.035 0.02\\ 3.045 0.05\\ 3.055 0.03\\ 3.065 0.06\\ 3.074 0.07\\
3.082 0.03\\ 3.088 -0.05\\ 3.095 -0.05\\ 3.105 -0.13\\ 3.115 -0.17\\ 3.122 -0.20\\ 3.130 -0.24\\ 3.139 -0.28\\ 3.148 -0.36\\ 3.157 -0.37\\
3.166 -0.34\\ 3.175 -0.39\\ 3.184 -0.36\\ 3.193 -0.42\\ 3.202 -0.43\\ 3.211 -0.38\\ 3.220 -0.41\\ 3.228 -0.37\\ 3.238 -0.34\\ 3.246 -0.35\\
3.255 -0.29\\ 3.265 -0.31\\ 3.275 -0.25\\ 3.285 -0.27\\ 3.295 -0.21\\ 3.305 -0.24\\ 3.315 -0.19\\ 3.325 -0.22\\ 3.335 -0.18\\ 3.345 -0.21\\
3.355 -0.15\\ 3.365 -0.19\\ 3.375 -0.16\\ 3.385 -0.18\\ 3.395 -0.13\\ 3.405 -0.14\\ 3.415 -0.12\\ 3.425 -0.06\\ 3.435 -0.03\\ 3.442 0.00\\
3.452 0.05\\ 3.460 0.03\\ 3.469 0.07\\ 3.480 0.10\\ 3.488 0.06\\ 3.495 0.03\\ 3.505 0.00\\ 3.515 -0.03\\ 3.525 -0.05\\ 3.535 -0.06\\
3.545 -0.10\\ 3.555 -0.14\\ 3.565 -0.12\\ 3.575 -0.16\\ 3.585 -0.09\\ 3.597 -0.01\\ 3.605 0.10\\ 3.612 0.34\\ 3.618 0.65\\ 3.623 0.95\\
3.629 1.05\\ 3.633 1.16\\ 3.637 1.16\\ 3.641 0.80\\ 3.645 0.49\\ 3.649 0.00\\ 3.653 -0.32\\ 3.657 -0.60\\ 3.661 -0.78\\ 3.666 -0.55\\
3.672 -0.28\\ 3.677 -0.22\\ 3.682 -0.24\\ 3.690 -0.14\\ 3.700 -0.05\\ 3.709 0.03\\ 3.718 0.01\\ 3.727 0.06\\ 3.736 0.07\\ 3.745 0.11\\
3.753 0.09\\ 3.762 0.14\\ 3.770 0.13\\ 3.780 0.16\\ 3.789 0.18\\ 3.798 0.16\\ 3.808 0.18\\ 3.816 0.18\\ 3.825 0.24\\ 3.833 0.28\\
3.842 0.32\\ 3.850 0.29\\ 3.856 0.30\\ 3.863 0.25\\ 3.869 0.26\\ 3.875 0.33\\ 3.882 0.40\\ 3.890 0.43\\ 3.896 0.38\\ 3.902 0.37\\
3.909 0.37\\ 3.918 0.34\\ 3.928 0.33\\ 3.936 0.34\\ 3.945 0.25\\ 3.953 0.15\\ 3.962 0.11\\ 3.970 0.06\\ 3.980 0.00\\ 3.989 -0.01\\
3.998 -0.04\\ 4.008 -0.03\\ 4.016 -0.03\\ 4.025 -0.01\\ 4.035 0.02\\ 4.045 -0.02\\ 4.056 0.03\\ 4.066 0.00\\ 4.076 0.04\\ 4.086 0.02\\
4.096 0.07\\ 4.106 0.03\\ 4.116 0.06\\ 4.126 0.01\\ 4.136 0.03\\ 4.146 0.05\\ 4.156 0.00\\ 4.166 0.06\\ 4.176 0.07\\ 4.186 0.03\\
4.196 0.05\\ 4.206 0.00\\ 4.216 0.03\\ 4.226 0.06\\ 4.235 0.10\\ 4.243 0.11\\ 4.252 0.12\\ 4.260 0.10\\ 4.269 0.11\\ 4.278 0.14\\
4.287 0.12\\ 4.296 0.14\\ 4.306 0.13\\ 4.316 0.17\\ 4.326 0.20\\ 4.336 0.25\\ 4.344 0.21\\ 4.352 0.18\\ 4.363 0.14\\ 4.372 0.08\\
4.381 0.03\\ 4.389 0.03\\ 4.398 -0.03\\ 4.407 -0.07\\ 4.416 -0.10\\ 4.425 -0.06\\ 4.434 -0.02\\ 4.443 -0.02\\ 4.452 -0.01\\ 4.461 -0.02\\
4.469 0.01\\ 4.475 0.01\\ 4.481 0.10\\ 4.485 0.40\\ 4.488 0.57\\ 4.492 0.95\\ 4.496 1.30\\ 4.500 1.30\\ 4.504 1.30\\ 4.507 0.95\\
4.509 0.68\\ 4.512 0.10\\ 4.514 -0.40\\ 4.517 -0.66\\ 4.522 -0.78\\ 4.528 -0.78\\ 4.534 -0.50\\ 4.541 -0.32\\ 4.549 -0.20\\ 4.556 -0.17\\
4.563 -0.16\\ 4.572 -0.10\\ 4.580 -0.06\\ 4.590 -0.05\\ 4.598 -0.01\\ 4.607 0.00\\ 4.616 0.01\\ 4.625 0.03\\ 4.635 0.00\\ 4.645 0.05\\
4.656 0.03\\ 4.666 0.07\\ 4.676 0.05\\ 4.686 0.10\\ 4.696 0.09\\ 4.706 0.13\\ 4.716 0.12\\ 4.726 0.16\\ 4.736 0.14\\ 4.745 0.18\\
4.754 0.17\\ 4.763 0.22\\ 4.770 0.26\\ 4.776 0.28\\ 4.783 0.30\\ 4.790 0.30\\ 4.796 0.24\\ 4.803 0.18\\ 4.812 0.08\\ 4.820 0.00\\
4.830 -0.05\\ 4.840 -0.10\\ 4.850 -0.09\\ 4.860 -0.12\\ 4.870 -0.13\\ 4.880 -0.11\\ 4.890 -0.14\\ 4.900 -0.12\\ 4.910 -0.14\\ 4.920 -0.10\\
4.930 -0.13\\ 4.940 -0.09\\ 4.952 -0.12\\ 4.963 -0.10\\ 4.975 -0.12\\ 4.985 -0.08\\ 4.995 -0.11\\ 5.007 -0.08\\ 5.017 -0.10\\ 5.027 -0.07\\
5.038 -0.10\\ 5.048 -0.06\\ 5.058 -0.09\\ 5.070 -0.07\\ 5.080 -0.09\\ 5.090 -0.06\\ 5.100 -0.10\\ 5.110 -0.08\\ 5.120 -0.09\\ 5.130 -0.06\\
5.140 -0.05\\ 5.150 -0.01\\ 5.160 0.01\\ 5.170 0.05\\ 5.177 0.07\\ 5.185 0.11\\ 5.192 0.14\\ 5.198 0.20\\ 5.204 0.17\\ 5.210 0.11\\
5.217 0.07\\ 5.225 0.01\\ 5.235 -0.05\\ 5.243 -0.09\\ 5.253 -0.13\\ 5.263 -0.14\\ 5.273 -0.17\\ 5.283 -0.16\\ 5.293 -0.18\\ 5.303 -0.16\\
5.310 -0.17\\ 5.317 -0.12\\ 5.323 -0.09\\ 5.328 0.00\\ 5.333 0.40\\ 5.337 0.49\\ 5.342 0.90\\ 5.346 1.15\\ 5.350 1.28\\ 5.354 1.28\\
5.358 1.26\\ 5.362 0.90\\ 5.366 0.50\\ 5.369 0.30\\ 5.372 -0.10\\ 5.376 -0.48\\ 5.380 -0.47\\ 5.385 -0.70\\ 5.390 -0.82\\ 5.396 -0.60\\
5.404 -0.28\\ 5.410 -0.20\\ 5.417 -0.16\\ 5.428 -0.14\\ 5.438 -0.10\\ 5.444 -0.11\\ 5.456 -0.08\\ 5.466 -0.07\\ 5.476 -0.09\\ 5.484 -0.07\\
5.494 -0.05\\ 5.504 -0.06\\ 5.514 -0.03\\ 5.524 -0.05\\ 5.534 -0.01\\ 5.544 0.01\\ 5.554 0.00\\ 5.564 0.03\\ 5.574 0.06\\ 5.582 0.05\\
5.590 0.09\\ 5.598 0.12\\ 5.606 0.16\\ 5.612 0.18\\ 5.617 0.20\\ 5.625 0.21\\ 5.632 0.19\\ 5.636 0.20\\ 5.645 0.14\\ 5.657 0.11\\
5.665 0.04\\ 5.675 -0.04\\ 5.684 -0.09\\ 5.694 -0.13\\ 5.702 -0.12\\ 5.710 -0.16\\ 5.720 -0.14\\ 5.730 -0.17\\ 5.740 -0.14\\ 5.750 -0.16\\
5.760 -0.13\\ 5.770 -0.15\\ 5.780 -0.12\\ 5.790 -0.14\\ 5.800 -0.12\\ 5.810 -0.14\\ 5.820 -0.11\\ 5.830 -0.13\\ 5.844 -0.10\\ 5.855 -0.12\\
5.866 -0.10\\ 5.876 -0.12\\ 5.887 -0.09\\ 5.897 -0.11\\ 5.908 -0.08\\ 5.918 -0.10\\ 5.930 -0.08\\ 5.940 -0.09\\ 5.951 -0.06\\ 5.963 -0.05\\
5.977 -0.04\\ 5.985 0.00\\ 5.993 -0.01\\ 6.004 0.01\\ 6.015 0.06\\ 6.025 0.12\\ 6.036 0.16\\ 6.046 0.15\\ 6.057 0.11\\ 6.066 0.02\\
6.074 -0.08\\ 6.084 -0.14\\ 6.094 -0.16\\ 6.103 -0.13\\ 6.111 -0.18\\ 6.122 -0.15\\ 6.133 -0.17\\ 6.144 -0.14\\ 6.151 -0.16\\ 6.160 -0.13\\
6.168 -0.11\\ 6.172 -0.09\\ 6.176 0.10\\ 6.180 0.50\\ 6.183 0.99\\ 6.187 1.25\\ 6.191 1.38\\ 6.194 1.40\\ 6.198 1.34\\ 6.201 1.30\\
6.204 1.30\\ 6.208 0.90\\ 6.212 0.68\\ 6.215 0.10\\ 6.218 -0.20\\ 6.222 -0.70\\ 6.226 -0.93\\ 6.231 -0.80\\ 6.236 -0.35\\ 6.243 -0.24\\
6.250 -0.24\\ 6.260 -0.15\\ 6.271 -0.12\\ 6.284 -0.10\\ 6.298 -0.11\\ 6.310 -0.06\\ 6.324 -0.05\\ 6.337 -0.02\\ 6.350 -0.03\\ 6.364 -0.01\\
6.377 0.02\\ 6.391 0.03\\ 6.404 0.04\\ 6.418 0.07\\ 6.430 0.10\\ 6.444 0.16\\ 6.457 0.20\\ 6.471 0.24\\ 6.484 0.23\\ 6.498 0.22\\
6.506 0.14\\ 6.516 -0.01\\ 6.527 -0.08\\ 6.538 -0.13\\ 6.548 -0.15\\ 6.559 -0.16\\ 6.575 -0.18\\ 6.590 -0.16\\ 6.600 -0.18\\ 6.610 -0.19\\
6.620 -0.16\\ 6.635 -0.18\\ 6.648 -0.15\\ 6.662 -0.16\\ 6.675 -0.13\\ 6.690 -0.14\\ 6.700 -0.10\\ 6.714 -0.12\\ 6.725 -0.09\\ 6.738 -0.11\\
6.752 -0.09\\ 6.765 -0.06\\ 6.778 -0.08\\ 6.791 -0.09\\ 6.800 -0.03\\ 6.808 0.04\\ 6.817 0.07\\ 6.825 0.09\\ 6.832 0.11\\ 6.843 0.11\\
6.852 0.09\\ 6.860 0.06\\ 6.869 0.07\\ 6.878 -0.03\\ 6.887 -0.11\\ 6.895 -0.16\\ 6.905 -0.16\\ 6.913 -0.19\\ 6.920 -0.20\\ 6.930 -0.14\\
6.940 -0.17\\ 6.946 -0.14\\ 6.955 -0.18\\ 6.964 -0.17\\ 6.972 -0.20\\ 6.982 -0.16\\ 6.993 -0.20\\ 7.000 -0.10\\ 7.003 0.18\\ 7.007 0.60\\
7.010 0.85\\ 7.013 1.03\\ 7.017 1.35\\ 7.021 1.35\\ 7.025 1.18\\ 7.029 1.14\\ 7.033 0.30\\ 7.037 -0.66\\ 7.041 -0.90\\ 7.044 -1.03\\
7.049 -0.60\\ 7.055 -0.32\\ 7.062 -0.20\\ 7.070 -0.16\\ 7.079 -0.14\\ 7.088 -0.13\\ 7.100 -0.10\\ 7.110 -0.12\\ 7.127 -0.09\\ 7.140 -0.06\\
7.150 -0.08\\ 7.166 -0.02\\ 7.180 0.00\\ 7.192 0.03\\ 7.205 0.07\\ 7.215 0.08\\ 7.225 0.10\\ 7.235 0.13\\ 7.245 0.16\\ 7.255 0.18\\
7.262 0.21\\ 7.269 0.20\\ 7.280 0.23\\ 7.287 0.26\\ 7.295 0.24\\ 7.305 0.20\\ 7.314 0.11\\ 7.321 0.10\\ 7.330 -0.03\\ 7.340 -0.13\\
7.347 -0.16\\ 7.360 -0.20\\ 7.372 -0.22\\ 7.385 -0.22\\ 7.398 -0.19\\ 7.412 -0.21\\ 7.425 -0.17\\ 7.437 -0.18\\ 7.450 -0.15\\ 7.463 -0.17\\
7.476 -0.14\\ 7.489 -0.15\\ 7.502 -0.12\\ 7.515 -0.14\\ 7.528 -0.11\\ 7.541 -0.13\\ 7.555 -0.10\\ 7.566 -0.12\\ 7.580 -0.09\\ 7.592 -0.11\\
7.605 -0.07\\ 7.618 -0.01\\ 7.630 0.04\\ 7.644 0.07\\ 7.656 0.11\\ 7.663 0.13\\ 7.670 0.12\\ 7.680 0.06\\ 7.690 -0.02\\ 7.696 -0.03\\
7.705 -0.10\\ 7.714 -0.16\\ 7.721 -0.17\\ 7.735 -0.18\\ 7.748 -0.16\\ 7.760 -0.19\\ 7.773 -0.16\\ 7.786 -0.14\\ 7.795 -0.10\\ 7.799 -0.05\\
7.805 0.30\\ 7.809 0.72\\ 7.814 1.10\\ 7.818 1.28\\ 7.822 1.28\\ 7.825 1.26\\ 7.827 0.80\\ 7.831 0.20\\ 7.835 -0.40\\ 7.838 -0.60\\
7.842 -0.80\\ 7.846 -0.91\\ 7.852 -0.90\\ 7.856 -0.70\\ 7.861 -0.50\\ 7.866 -0.40\\ 7.871 -0.20\\ 7.876 -0.20\\ 7.889 -0.14\\ 7.902 -0.11\\
7.915 -0.09\\ 7.928 -0.06\\ 7.941 -0.05\\ 7.955 -0.03\\ 7.968 -0.02\\ 7.980 -0.01\\ 7.993 0.02\\ 8.006 0.01\\ 8.019 0.05\\ 8.031 0.06\\
8.044 0.09\\ 8.057 0.13\\ 8.070 0.16\\ 8.083 0.20\\ 8.096 0.18\\ 8.109 0.16\\ 8.122 0.09\\ 8.135 0.03\\ 8.148 -0.07\\ 8.161 -0.14\\
8.173 -0.17\\ 8.186 -0.18\\ 8.199 -0.18\\ 8.212 -0.15\\ 8.225 -0.17\\ 8.238 -0.16\\ 8.251 -0.14\\ 8.264 -0.16\\ 8.277 -0.13\\ 8.290 -0.15\\
8.303 -0.14\\ 8.316 -0.12\\ 8.329 -0.14\\ 8.342 -0.12\\ 8.355 -0.13\\ 8.367 -0.11\\ 8.380 -0.10\\ 8.393 -0.05\\ 8.406 -0.02\\ 8.419 0.05\\
8.432 0.07\\ 8.440 0.10\\ 8.447 0.14\\ 8.453 0.12\\ 8.458 0.14\\ 8.465 0.05\\ 8.472 -0.02\\ 8.484 -0.04\\ 8.493 -0.12\\ 8.503 -0.17\\
8.510 -0.16\\ 8.523 -0.18\\ 8.535 -0.18\\ 8.548 -0.16\\ 8.561 -0.18\\ 8.574 -0.17\\ 8.587 -0.16\\ 8.598 -0.12\\ 8.605 0.07\\ 8.609 0.40\\
8.613 0.74\\ 8.617 1.10\\ 8.621 1.24\\ 8.624 1.24\\ 8.628 1.18\\ 8.632 0.50\\ 8.636 0.04\\ 8.640 -0.50\\ 8.644 -0.82\\ 8.649 -0.70\\
8.654 -0.43\\ 8.660 -0.25\\ 8.665 -0.20\\ 8.677 -0.14\\ 8.690 -0.12\\ 8.703 -0.09\\ 8.716 -0.07\\ 8.729 -0.06\\ 8.742 -0.05\\ 8.755 -0.03\\
8.768 -0.03\\ 8.781 0.00\\ 8.794 -0.01\\ 8.807 0.02\\ 8.820 0.03\\ 8.832 0.03\\ 8.845 0.06\\ 8.858 0.08\\ 8.871 0.13\\ 8.884 0.17\\
8.890 0.20\\ 8.897 0.20\\ 8.905 0.17\\ 8.913 0.15\\ 8.923 0.10\\ 8.936 0.00\\ 8.949 -0.09\\ 8.962 -0.15\\ 8.975 -0.18\\ 8.988 -0.16\\
9.000 -0.18\\ 9.013 -0.16\\ 9.026 -0.17\\ 9.039 -0.14\\ 9.052 -0.15\\ 9.065 -0.14\\ 9.078 -0.12\\ 9.091 -0.14\\ 9.104 -0.11\\ 9.117 -0.13\\
9.130 -0.10\\ 9.143 -0.11\\ 9.155 -0.09\\ 9.168 -0.08\\ 9.181 -0.04\\ 9.194 0.03\\ 9.207 0.05\\ 9.220 0.09\\ 9.233 0.12\\ 9.240 0.14\\
9.246 0.14\\ 9.252 0.11\\ 9.259 0.06\\ 9.272 -0.01\\ 9.285 -0.13\\ 9.298 -0.16\\ 9.310 -0.14\\ 9.323 -0.16\\ 9.336 -0.18\\ 9.349 -0.18\\
9.362 -0.12\\ 9.375 -0.05\\ 9.382 -0.05\\ 9.388 0.61\\ 9.393 1.00\\ 9.398 1.22\\ 9.402 1.20\\ 9.406 1.14\\ 9.410 0.40\\ 9.414 -0.32\\
9.418 -0.60\\ 9.422 -0.82\\ 9.427 -0.75\\ 9.432 -0.36\\ 9.440 -0.26\\ 9.453 -0.20\\ 9.466 -0.14\\ 9.479 -0.13\\ 9.492 -0.09\\ 9.505 -0.10\\
9.517 -0.05\\ 9.530 -0.07\\ 9.543 -0.03\\ 9.556 -0.03\\ 9.569 -0.01\\ 9.582 0.00\\ 9.595 0.01\\ 9.608 0.06\\ 9.621 0.08\\ 9.634 0.11\\
9.646 0.17\\ 9.653 0.16\\ 9.659 0.18\\ 9.667 0.19\\ 9.677 0.16\\ 9.685 0.16\\ 9.698 0.10\\ 9.711 0.03\\ 9.724 -0.10\\ 9.737 -0.16\\
9.750 -0.18\\ 9.763 -0.17\\ 9.776 -0.18\\ 9.789 -0.15\\ 9.801 -0.17\\ 9.814 -0.16\\ 9.827 -0.13\\ 9.840 -0.17\\ 9.853 -0.16\\ 9.866 -0.14\\
9.879 -0.12\\ 9.892 -0.13\\ 9.905 -0.11\\ 9.918 -0.12\\ 9.931 -0.10\\ 9.944 -0.11\\ 9.957 -0.09\\ 9.970 -0.10\\ 9.982 -0.09\\ 9.990 -0.06\\
9.995 0.05\\ 10.000 0.00\\
}\ecgdata

\pgfplotstableread[row sep=\\]{
t v\\
0.000 -0.070\\ 0.030 -0.055\\ 0.059 -0.043\\ 0.085 -0.030\\ 0.112 -0.015\\ 0.130 -0.005\\ 0.152 0.000\\ 0.165 -0.004\\ 0.179 -0.011\\ 0.200 0.005\\
0.219 0.022\\ 0.245 0.030\\ 0.272 0.041\\ 0.300 0.058\\ 0.325 0.078\\ 0.350 0.100\\ 0.379 0.125\\ 0.400 0.132\\ 0.432 0.144\\ 0.460 0.148\\
0.486 0.149\\ 0.510 0.150\\ 0.539 0.157\\ 0.565 0.160\\ 0.592 0.168\\ 0.605 0.172\\ 0.619 0.181\\ 0.630 0.176\\ 0.645 0.170\\ 0.659 0.162\\
0.680 0.148\\ 0.699 0.134\\ 0.715 0.115\\ 0.726 0.106\\ 0.745 0.090\\ 0.766 0.088\\ 0.790 0.090\\ 0.819 0.093\\ 0.840 0.100\\ 0.859 0.106\\
0.885 0.118\\ 0.912 0.125\\ 0.940 0.128\\ 0.966 0.131\\ 0.990 0.133\\ 1.019 0.134\\ 1.040 0.132\\ 1.059 0.131\\ 1.080 0.120\\ 1.099 0.106\\
1.125 0.095\\ 1.153 0.088\\ 1.175 0.082\\ 1.193 0.082\\ 1.213 0.090\\ 1.233 0.097\\ 1.260 0.115\\ 1.286 0.134\\ 1.310 0.158\\ 1.334 0.175\\
1.355 0.160\\ 1.380 0.145\\ 1.405 0.135\\ 1.433 0.125\\ 1.460 0.106\\ 1.486 0.088\\ 1.520 0.065\\ 1.553 0.045\\ 1.580 0.038\\ 1.606 0.032\\
1.640 0.028\\ 1.673 0.022\\ 1.695 0.010\\ 1.713 0.000\\ 1.740 -0.005\\ 1.767 -0.011\\ 1.795 -0.013\\ 1.815 -0.015\\ 1.830 -0.045\\ 1.847 -0.071\\
1.870 -0.090\\ 1.894 -0.104\\ 1.910 -0.097\\ 1.927 -0.090\\ 1.945 -0.080\\ 1.959 -0.075\\ 1.993 -0.080\\ 2.030 -0.081\\ 2.060 -0.080\\ 2.100 -0.081\\
2.140 -0.080\\ 2.193 -0.080\\ 2.230 -0.077\\ 2.260 -0.071\\ 2.314 -0.071\\ 2.350 -0.073\\ 2.375 -0.071\\ 2.400 -0.072\\ 2.428 -0.075\\ 2.455 -0.090\\
2.481 -0.108\\ 2.510 -0.140\\ 2.535 -0.164\\ 2.560 -0.158\\ 2.588 -0.149\\ 2.615 -0.132\\ 2.641 -0.123\\ 2.700 -0.118\\ 2.748 -0.112\\ 2.800 -0.110\\
2.855 -0.105\\ 2.900 -0.101\\ 2.935 -0.099\\ 2.980 -0.088\\ 3.015 -0.075\\ 3.040 -0.068\\ 3.068 -0.058\\ 3.120 -0.054\\ 3.175 -0.049\\ 3.240 -0.051\\
3.309 -0.052\\ 3.362 -0.050\\ 3.400 -0.054\\ 3.455 -0.056\\ 3.475 -0.040\\ 3.495 -0.015\\ 3.515 0.030\\ 3.535 0.060\\ 3.560 0.075\\ 3.602 0.088\\
3.640 0.090\\ 3.682 0.093\\ 3.700 0.110\\ 3.709 0.134\\ 3.730 0.165\\ 3.749 0.181\\ 3.790 0.195\\ 3.842 0.200\\ 3.880 0.190\\ 3.922 0.181\\
3.960 0.175\\ 3.989 0.168\\ 4.010 0.160\\ 4.029 0.149\\ 4.070 0.145\\ 4.109 0.134\\ 4.150 0.125\\ 4.189 0.116\\ 4.240 0.106\\ 4.296 0.093\\
4.350 0.085\\ 4.403 0.075\\ 4.455 0.062\\ 4.509 0.050\\ 4.550 0.040\\ 4.590 0.032\\ 4.620 0.020\\ 4.643 0.004\\ 4.680 -0.005\\ 4.723 -0.015\\
4.780 -0.025\\ 4.830 -0.034\\ 4.870 -0.044\\ 4.910 -0.049\\ 4.970 -0.047\\ 5.043 -0.043\\ 5.110 -0.040\\ 5.177 -0.034\\ 5.220 -0.032\\ 5.257 -0.030\\
5.290 -0.022\\ 5.310 -0.015\\ 5.350 0.000\\ 5.390 0.019\\ 5.430 0.010\\ 5.470 0.004\\ 5.520 0.025\\ 5.577 0.037\\ 5.630 0.043\\ 5.684 0.047\\
5.740 0.046\\ 5.790 0.045\\ 5.830 0.043\\ 5.871 0.041\\ 5.910 0.033\\ 5.951 0.026\\ 5.980 0.022\\ 6.004 0.019\\ 6.060 0.020\\ 6.111 0.019\\
6.160 0.012\\ 6.218 0.004\\ 6.270 -0.002\\ 6.324 -0.006\\ 6.380 -0.010\\ 6.431 -0.015\\ 6.470 -0.022\\ 6.511 -0.034\\ 6.535 -0.040\\ 6.559 -0.049\\
6.600 -0.052\\ 6.636 -0.056\\ 6.680 -0.060\\ 6.714 -0.062\\ 6.740 -0.080\\ 6.765 -0.099\\ 6.790 -0.099\\ 6.817 -0.095\\ 6.855 -0.085\\ 6.895 -0.075\\
6.950 -0.066\\ 7.011 -0.056\\ 7.050 -0.024\\ 7.110 -0.018\\ 7.179 -0.011\\ 7.230 0.000\\ 7.282 0.022\\ 7.320 0.030\\ 7.360 0.037\\ 7.400 0.045\\
7.437 0.056\\ 7.465 0.065\\ 7.489 0.082\\ 7.515 0.095\\ 7.541 0.106\\ 7.565 0.120\\ 7.592 0.134\\ 7.620 0.142\\ 7.644 0.149\\ 7.690 0.152\\
7.747 0.162\\ 7.800 0.150\\ 7.851 0.149\\ 7.890 0.142\\ 7.928 0.138\\ 7.970 0.138\\ 8.006 0.138\\ 8.050 0.142\\ 8.109 0.144\\ 8.160 0.138\\
8.212 0.131\\ 8.264 0.125\\ 8.300 0.110\\ 8.342 0.093\\ 8.380 0.082\\ 8.419 0.075\\ 8.470 0.068\\ 8.522 0.060\\ 8.575 0.053\\ 8.626 0.045\\
8.680 0.038\\ 8.729 0.032\\ 8.780 0.027\\ 8.832 0.022\\ 8.900 0.018\\ 8.962 0.013\\ 9.020 0.005\\ 9.091 -0.006\\ 9.150 -0.012\\ 9.220 -0.019\\
9.280 -0.022\\ 9.349 -0.024\\ 9.410 -0.026\\ 9.479 -0.030\\ 9.540 -0.030\\ 9.608 -0.030\\ 9.670 -0.032\\ 9.737 -0.034\\ 9.800 -0.036\\ 9.866 -0.037\\
9.930 -0.036\\ 10.000 -0.037\\
}\eogdata

\begin{tikzpicture}[x=1pt,y=1pt]
\fill[viewer] (0,0) rectangle (1781,772);
\fill[white] (7,0) rectangle (1781,767);
\draw[black!65, line width=1.4pt] (13,0) -- (13,762) -- (1781,762);
\draw[black!18, line width=1.5pt] (7,1.5) -- (1781,1.5);

% a) EEG
\begin{axis}[sig, at={(259.5pt,499.3pt)}, anchor=south west, height=234.4pt,
  ymin=-0.0607, ymax=0.0896,
  ytick={-0.05,0,0.05}, yticklabels={-0.05,0,0.05},
  xticklabels={},
  ylabel={Amplitud (u.a.)},
  ylabel style={at={(axis description cs:-0.0568,0.56)}, anchor=center}]
\addplot[line width=1.8pt] table[x=t,y=v] {\eegdata};
\node[anchor=west, inner sep=0pt, font=\fontsize{28}{34}\selectfont] at (rel axis cs:0.2214,0.7325) {EEG};
\end{axis}

% b) ECG
\begin{axis}[sig, at={(259.5pt,280pt)}, anchor=south west, height=219.3pt,
  ymin=-1.03, ymax=1.5,
  ytick={-1,-0.5,0,0.5,1,1.5}, yticklabels={-1,-0.5,0,0.5,1,1.5},
  xticklabels={},
  ylabel={Amplitud (u.a.)},
  ylabel style={at={(axis description cs:-0.0568,0.618)}, anchor=center}]
\addplot[line width=1.5pt] table[x=t,y=v] {\ecgdata};
\node[anchor=west, inner sep=0pt, font=\fontsize{28}{34}\selectfont] at (rel axis cs:0.2228,0.807) {ECG};
\end{axis}

% c) EOG
\begin{axis}[sig, at={(259.5pt,98.7pt)}, anchor=south west, height=181.3pt,
  ymin=-0.5, ymax=0.515,
  ytick={-0.5,0,0.5}, yticklabels={-0.5,0,0.5},
  extra y ticks={0.293}, extra y tick labels={-1.5},
  extra y tick style={major tick length=0pt},
  xticklabels={0,2,4,6,8,10},
  xlabel={Time (s)},
  xlabel style={at={(axis description cs:0.5,-0.322)}, anchor=center},
  ylabel={Amplitud (u.a.)},
  ylabel style={at={(axis description cs:-0.0568,0.379)}, anchor=center}]
\addplot[line width=1.3pt] table[x=t,y=v] {\eogdata};
\node[anchor=west, inner sep=0pt, font=\fontsize{28}{34}\selectfont] at (rel axis cs:0.219,0.781) {EOG};
\end{axis}

\node[font=\serifpanel\fontsize{44}{50}\selectfont] at (87,639) {a)};
\node[font=\serifpanel\fontsize{44}{50}\selectfont] at (87,399) {b)};
\node[font=\serifpanel\fontsize{44}{50}\selectfont] at (87,174) {c)};

\pgfresetboundingbox
\useasboundingbox (0,0) rectangle (1781,772);
\end{tikzpicture}
\end{document}
